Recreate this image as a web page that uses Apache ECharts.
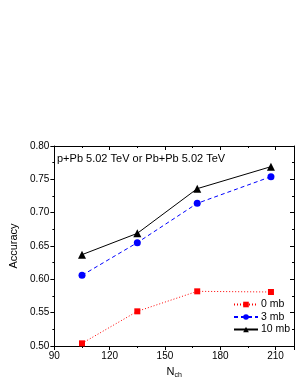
<!DOCTYPE html>
<html><head><meta charset="utf-8">
<script src="https://cdn.jsdelivr.net/npm/echarts@6/dist/echarts.min.js"></script>
<style>html,body{margin:0;padding:0;background:#fff}#c{width:298px;height:385px}</style>
</head><body><div id="c"></div>
<script>
const nch = [105, 135, 167.5, 207.5];
const acc0mb = [0.504, 0.552, 0.582, 0.581];
const acc3mb = [0.606, 0.655, 0.714, 0.754];
const acc10mb = [0.637, 0.669, 0.736, 0.769];
const seriesNames = ['0 mb', '3 mb', '10 mb'];
const annotation = 'p+Pb 5.02 TeV or Pb+Pb 5.02 TeV';

const font = 'Liberation Sans, Arial, sans-serif';
const pair = (xs, ys) => xs.map((x, i) => [x, ys[i]]);
const chart = echarts.init(document.getElementById('c'));
const axisCommon = {
  axisLine: {show: true, lineStyle: {color: '#000', width: 1}},
  splitLine: {show: false}
};
chart.setOption({
  animation: false,
  backgroundColor: '#fff',
  textStyle: {fontFamily: font},
  grid: {left: 48, right: 4, top: 146, bottom: 39},
  xAxis: [{
    type: 'value', min: 90, max: 220, interval: 30, position: 'bottom',
    ...axisCommon,
    axisTick: {show: true, inside: false, length: 4, lineStyle: {color: '#000'}},
    minorTick: {show: true, splitNumber: 2, length: 2, lineStyle: {color: '#000'}},
    axisLabel: {color: '#000', fontSize: 10, fontFamily: font, margin: 5, showMaxLabel: false,
      formatter: v => (v % 30 === 0 ? String(v) : '')},
    name: '{n|N}{s|ch}', nameLocation: 'middle', nameGap: 18,
    nameTextStyle: {rich: {n: {fontSize: 11, color: '#000', fontFamily: font}, s: {fontSize: 7, color: '#000', fontFamily: font, verticalAlign: 'bottom', padding: [8, 0, 0, 0]}}}
  }, {
    type: 'value', min: 90, max: 220, interval: 30, position: 'top',
    ...axisCommon,
    axisTick: {show: true, inside: true, length: 4, lineStyle: {color: '#000'}},
    minorTick: {show: true, splitNumber: 2, length: 2, lineStyle: {color: '#000'}},
    axisLabel: {show: false}
  }],
  yAxis: [{
    type: 'value', min: 0.5, max: 0.8, interval: 0.05, position: 'left',
    ...axisCommon,
    axisTick: {show: true, inside: false, length: 4, lineStyle: {color: '#000'}},
    minorTick: {show: true, splitNumber: 2, length: 2, lineStyle: {color: '#000'}},
    axisLabel: {color: '#000', fontSize: 10, fontFamily: font, margin: 5, formatter: v => v.toFixed(2)},
    name: 'Accuracy', nameLocation: 'middle', nameGap: 30, nameRotate: 90,
    nameTextStyle: {fontSize: 11, color: '#000', fontFamily: font}
  }, {
    type: 'value', min: 0.5, max: 0.8, interval: 0.05, position: 'right',
    ...axisCommon,
    axisTick: {show: true, inside: true, length: 4, lineStyle: {color: '#000'}},
    minorTick: {show: true, splitNumber: 2, length: 2, lineStyle: {color: '#000'}},
    axisLabel: {show: false}
  }],
  legend: {
    orient: 'vertical', left: 233, top: 299, padding: 0, itemWidth: 24, itemHeight: 7, itemGap: 1.5,
    textStyle: {fontSize: 10.5, color: '#000', fontFamily: font, padding: [0, 0, 0, -2]},
    data: seriesNames
  },
  graphic: [{
    type: 'text', left: 57, top: 153,
    style: {text: annotation, fontSize: 11, fill: '#000', fontFamily: font}
  }],
  series: [{
    name: seriesNames[0], type: 'line', data: pair(nch, acc0mb),
    symbol: 'rect', symbolSize: 6,
    lineStyle: {color: '#ff0000', width: 1, type: [1, 2]},
    itemStyle: {color: '#ff0000'}
  }, {
    name: seriesNames[1], type: 'line', data: pair(nch, acc3mb),
    symbol: 'circle', symbolSize: 7,
    lineStyle: {color: '#0000ff', width: 1, type: [4, 3]},
    itemStyle: {color: '#0000ff'}
  }, {
    name: seriesNames[2], type: 'line', data: pair(nch, acc10mb),
    symbol: 'triangle', symbolSize: 8,
    lineStyle: {color: '#000', width: 1, type: 'solid'},
    itemStyle: {color: '#000'}
  }]
});
</script></body></html>
